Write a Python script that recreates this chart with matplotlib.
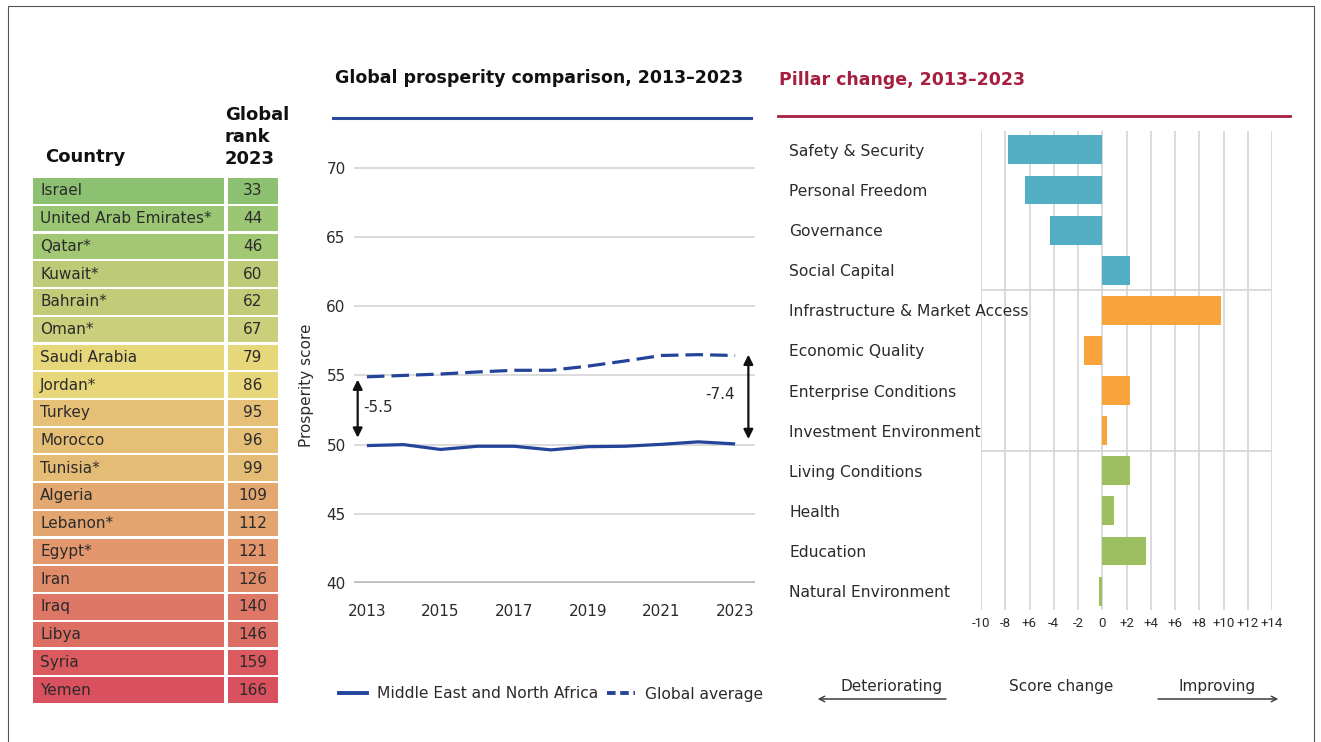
import numpy as np
import matplotlib
matplotlib.use('Agg')
import matplotlib.pyplot as plt
from matplotlib.patches import Rectangle
from matplotlib.lines import Line2D

W, H = 1321, 742

## table data
countries = ['Israel', 'United Arab Emirates*', 'Qatar*', 'Kuwait*', 'Bahrain*', 'Oman*',
             'Saudi Arabia', 'Jordan*', 'Turkey', 'Morocco', 'Tunisia*', 'Algeria',
             'Lebanon*', 'Egypt*', 'Iran', 'Iraq', 'Libya', 'Syria', 'Yemen']
ranks = [33, 44, 46, 60, 62, 67, 79, 86, 95, 96, 99, 109, 112, 121, 126, 140, 146, 159, 166]
row_colors = ['#8cc172', '#9bc674', '#a3c874', '#bdcb78', '#c2cc78', '#cacf7b',
              '#e5d77a', '#e8d77a', '#e6c077', '#e6bf77', '#e5bc76', '#e3a870',
              '#e3a570', '#e4966d', '#e08c6b', '#de7766', '#dc6e64', '#da5a60', '#d9505f']

## line chart data
years = list(range(2013, 2024))
mena = [49.93, 50.0, 49.65, 49.88, 49.88, 49.62, 49.85, 49.88, 50.02, 50.2, 50.05]
global_avg = [54.9, 55.0, 55.1, 55.25, 55.37, 55.37, 55.67, 56.04, 56.44, 56.5, 56.44]
gap_labels = ['-5.5', '-7.4']

## pillar data
pillars = ['Safety & Security', 'Personal Freedom', 'Governance', 'Social Capital',
           'Infrastructure & Market Access', 'Economic Quality', 'Enterprise Conditions',
           'Investment Environment', 'Living Conditions', 'Health', 'Education',
           'Natural Environment']
pillar_change = [-7.8, -6.4, -4.35, 2.25, 9.8, -1.5, 2.3, 0.37, 2.25, 0.95, 3.6, -0.3]
pillar_colors = ['#53aec4'] * 4 + ['#f9a33d'] * 4 + ['#9cbf62'] * 4
xtick_vals = list(range(-10, 15, 2))
xtick_labels = ['-10', '-8', '+6', '-4', '-2', '0', '+2', '+4', '+6', '+8', '+10', '+12', '+14']

TXT = '#2b2b2b'
NAVY = '#23449a'
CRIMSON = '#a51f40'
GRID = '#d4d4d4'


def box(x0, y0, x1, y1):
    return [x0 / W, 1 - y1 / H, (x1 - x0) / W, (y1 - y0) / H]


def fp(x, y):
    return (x / W, 1 - y / H)


plt.rcParams['font.family'] = 'DejaVu Sans'
fig = plt.figure(figsize=(W / 100, H / 100), dpi=100)

## outer frame
fig.patches.append(Rectangle(fp(8, 748), (1314 - 8) / W, (748 - 6) / H,
                             transform=fig.transFigure, fill=False,
                             edgecolor='#555555', lw=0.8))

## ---------- table ----------
ax_t = fig.add_axes(box(32, 177, 278, 704))
n = len(countries)
rows = np.arange(n)
ax_t.barh(rows, 0.776, left=0.004, height=0.92, color=row_colors)
ax_t.barh(rows, 0.203, left=0.797, height=0.92, color=row_colors)
for i in range(n):
    ax_t.text(0.033, i, countries[i], va='center', fontsize=11, color=TXT)
    ax_t.text(0.898, i, str(ranks[i]), va='center', ha='center', fontsize=11, color=TXT)
ax_t.set_xlim(0, 1)
ax_t.set_ylim(n - 0.5, -0.5)
ax_t.axis('off')

fig.text(*fp(45, 157), 'Country', fontsize=13, fontweight='bold', va='center', color='#111111')
fig.text(*fp(225, 164), 'Global\nrank\n2023', fontsize=13, fontweight='bold', va='baseline',
         color='#111111', linespacing=1.3)

## ---------- line chart ----------
ax_l = fig.add_axes(box(354, 154, 755, 583))
ax_l.plot(years, mena, color=NAVY, lw=2.3, solid_capstyle='butt')
ax_l.plot(years, global_avg, color=NAVY, lw=2.3, dashes=(5.5, 2.2))
ax_l.set_xlim(2012.65, 2023.54)
ax_l.set_ylim(40, 71)
ax_l.set_yticks(range(40, 71, 5))
ax_l.set_xticks(range(2013, 2024, 2))
ax_l.grid(axis='y', color=GRID, lw=1.2)
ax_l.axhline(40, color='#bdbdbd', lw=2.6)
for s in ax_l.spines.values():
    s.set_visible(False)
ax_l.tick_params(axis='both', length=0, labelsize=11, colors=TXT)
ax_l.tick_params(axis='y', pad=6)
ax_l.tick_params(axis='x', pad=15)

## gap arrows
arr = dict(arrowstyle='<|-|>', color='#111111', lw=1.6, mutation_scale=14, shrinkA=0, shrinkB=0)
ax_l.annotate('', xy=(2012.75, 54.7), xytext=(2012.75, 50.5), arrowprops=arr)
ax_l.annotate('', xy=(2023.36, 56.5), xytext=(2023.36, 50.4), arrowprops=arr)
ax_l.text(2012.9, 52.7, gap_labels[0], fontsize=11, va='center', color=TXT)
ax_l.text(2023.0, 53.6, gap_labels[1], fontsize=11, va='center', ha='right', color=TXT)

fig.text(*fp(307, 385), 'Prosperity score', rotation=90, fontsize=11, ha='center', va='center', color=TXT)
fig.text(*fp(335, 78), 'Global prosperity comparison, 2013–2023', fontsize=12.5,
         fontweight='bold', va='center', color='#111111')
fig.add_artist(Line2D([333 / W, 751 / W], [1 - 118 / H] * 2, color='#2a4b9b', lw=2.2))

handles = [Line2D([], [], color=NAVY, lw=2.8),
           Line2D([], [], color=NAVY, lw=2.8, dashes=(2.2, 1.2))]
fig.legend(handles, ['Middle East and North Africa', 'Global average'], loc='center',
           bbox_to_anchor=fp(551, 694), ncol=2, frameon=False, fontsize=11.2,
           handlelength=1.8, columnspacing=0.6, handletextpad=0.6, labelcolor=TXT)

## ---------- pillar bars ----------
ax_b = fig.add_axes(box(981, 131, 1272, 610))
yy = np.arange(len(pillars))
ax_b.barh(yy, pillar_change, height=0.72, color=pillar_colors, zorder=3)
ax_b.set_xlim(-10, 14)
ax_b.set_ylim(len(pillars) - 0.53, -0.47)
ax_b.set_xticks(xtick_vals)
ax_b.set_xticklabels(xtick_labels, fontfamily='Roboto', fontsize=9.5)
ax_b.set_yticks(yy)
ax_b.set_yticklabels(pillars, ha='left')
ax_b.grid(axis='x', color=GRID, lw=1.2, zorder=0)
ax_b.hlines([3.5, 7.5], -10, 14, color=GRID, lw=1.2, zorder=1)
for s in ax_b.spines.values():
    s.set_visible(False)
ax_b.tick_params(axis='x', length=0, colors=TXT, pad=5)
ax_b.tick_params(axis='y', length=0, labelsize=11.2, colors=TXT, pad=138)

fig.text(*fp(779, 80), 'Pillar change, 2013–2023', fontsize=12.5, fontweight='bold',
         va='center', color=CRIMSON)
fig.add_artist(Line2D([778 / W, 1290 / W], [1 - 116 / H] * 2, color=CRIMSON, lw=2))

fig.text(*fp(892, 686), 'Deteriorating', fontsize=11, ha='center', va='center', color=TXT)
fig.text(*fp(1061, 686), 'Score change', fontsize=11, ha='center', va='center', color=TXT)
fig.text(*fp(1217, 686), 'Improving', fontsize=11, ha='center', va='center', color=TXT)
thin = dict(arrowstyle='->', color='#444444', lw=0.8, mutation_scale=10, shrinkA=0, shrinkB=0)
fig.add_artist(plt.annotate('', xy=fp(818, 699), xytext=fp(946, 699),
                            xycoords='figure fraction', arrowprops=thin))
fig.add_artist(plt.annotate('', xy=fp(1278, 699), xytext=fp(1158, 699),
                            xycoords='figure fraction', arrowprops=thin))

fig.savefig('out.png', dpi=100)
